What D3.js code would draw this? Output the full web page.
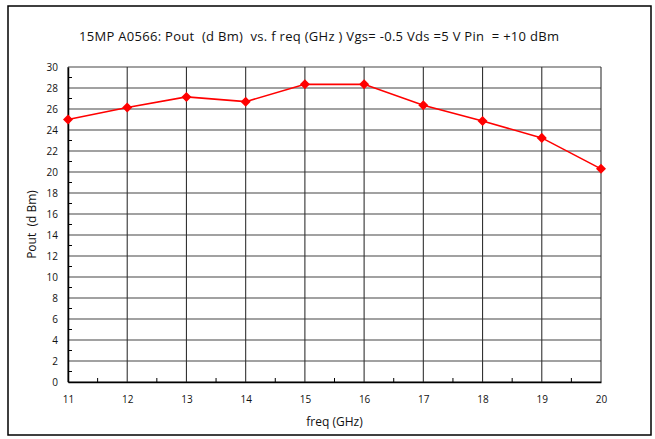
<!DOCTYPE html>
<html>
<head>
<meta charset="utf-8">
<script src="https://d3js.org/d3.v7.min.js"></script>
<style>
  body { margin: 0; background: #fff; }
  text { font-family: "Open Sans", "Liberation Sans", sans-serif; fill: #111; white-space: pre; }
</style>
</head>
<body>
<div id="chart"></div>
<script>
    // data
    var freq = [11, 12, 13, 14, 15, 16, 17, 18, 19, 20];
    var pout = [25.0, 26.15, 27.15, 26.7, 28.35, 28.35, 26.35, 24.85, 23.25, 20.3];
    var yTicks = [0, 2, 4, 6, 8, 10, 12, 14, 16, 18, 20, 22, 24, 26, 28, 30];
    var yMinor = [1, 3, 5, 7, 9, 11, 13, 15, 17, 19, 21, 23, 25, 27, 29];
    var xMinor = [11.5, 12.5, 13.5, 14.5, 15.5, 16.5, 17.5, 18.5, 19.5];

    var W = 655, H = 439;
    var margin = {top: 67, right: 54, bottom: 57, left: 68},
        width = W - margin.left - margin.right,
        height = H - margin.top - margin.bottom;

    var root = d3.select("#chart").append("svg")
        .attr("width", W)
        .attr("height", H);

    // outer frame
    root.append("rect")
        .attr("x", 8).attr("y", 6)
        .attr("width", 643).attr("height", 429)
        .attr("fill", "none")
        .attr("stroke", "#000")
        .attr("stroke-width", 1.5);

    root.append("text")
        .attr("x", 319).attr("y", 41)
        .attr("text-anchor", "middle")
        .attr("textLength", 480)
        .style("font-size", "13px")
        .text("15MP A0566: Pout  (d Bm)  vs. f req (GHz ) Vgs= -0.5 Vds =5 V Pin  = +10 dBm");

    var svg = root.append("g")
        .attr("transform", "translate(" + margin.left + "," + margin.top + ")");

    var x = d3.scaleLinear().domain([11, 20]).range([0, width]);
    var y = d3.scaleLinear().domain([0, 30]).range([height, 0]);

    // horizontal grid
    svg.append("g")
        .selectAll("line")
        .data(yTicks)
        .enter().append("line")
        .attr("x1", 0).attr("x2", width)
        .attr("y1", function(d) { return y(d); })
        .attr("y2", function(d) { return y(d); })
        .attr("stroke", "#444")
        .attr("stroke-width", 1.1);

    // vertical grid
    svg.append("g")
        .selectAll("line")
        .data(freq)
        .enter().append("line")
        .attr("x1", function(d) { return x(d); })
        .attr("x2", function(d) { return x(d); })
        .attr("y1", 0).attr("y2", height)
        .attr("stroke", "#333")
        .attr("stroke-width", 1.1);

    // axes
    var yAxis = svg.append("g")
        .call(d3.axisLeft(y).tickValues(yTicks).tickSize(0).tickPadding(10));
    yAxis.select(".domain").attr("stroke", "#000").attr("stroke-width", 1.5);
    yAxis.selectAll("text").style("font-size", "10px");

    var xAxis = svg.append("g")
        .attr("transform", "translate(0," + height + ")")
        .call(d3.axisBottom(x).tickValues(freq).tickSize(0).tickPadding(14).tickFormat(d3.format("d")));
    xAxis.select(".domain").attr("stroke", "#000").attr("stroke-width", 1.5);
    xAxis.selectAll("text").style("font-size", "10px");

    // minor ticks, pointing inward
    svg.append("g")
        .selectAll("line")
        .data(yMinor)
        .enter().append("line")
        .attr("x1", 0).attr("x2", 4)
        .attr("y1", function(d) { return y(d); })
        .attr("y2", function(d) { return y(d); })
        .attr("stroke", "#000");
    svg.append("g")
        .selectAll("line")
        .data(xMinor)
        .enter().append("line")
        .attr("x1", function(d) { return x(d); })
        .attr("x2", function(d) { return x(d); })
        .attr("y1", height).attr("y2", height - 4)
        .attr("stroke", "#000");

    // series
    var pts = freq.map(function(f, i) { return {f: f, v: pout[i]}; });
    svg.append("path")
        .datum(pts)
        .attr("fill", "none")
        .attr("stroke", "#ff0000")
        .attr("stroke-width", 1.6)
        .attr("d", d3.line()
            .x(function(d) { return x(d.f); })
            .y(function(d) { return y(d.v); }));

    svg.selectAll(".pt")
        .data(pts)
        .enter().append("path")
        .attr("class", "pt")
        .attr("transform", function(d) { return "translate(" + x(d.f) + "," + y(d.v) + ")"; })
        .attr("d", d3.symbol().type(d3.symbolDiamond2).size(64))
        .attr("fill", "#ff0000");

    // axis titles
    root.append("text")
        .attr("transform", "translate(36," + (margin.top + height / 2) + ") rotate(-90)")
        .attr("text-anchor", "middle")
        .style("font-size", "12px")
        .text("Pout  (d Bm)");

    root.append("text")
        .attr("x", margin.left + width / 2)
        .attr("y", 426)
        .attr("text-anchor", "middle")
        .style("font-size", "12px")
        .text("freq (GHz)");
</script>
</body>
</html>
